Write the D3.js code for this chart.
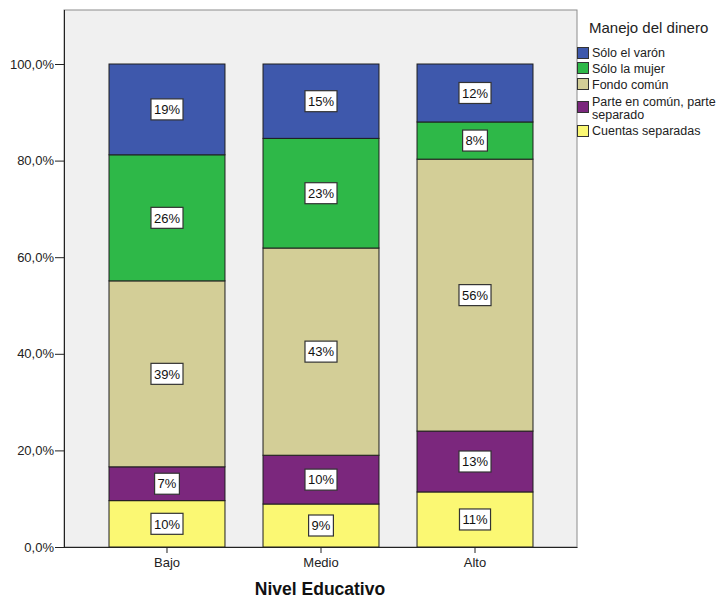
<!DOCTYPE html>
<html>
<head>
<meta charset="utf-8">
<script src="https://cdn.jsdelivr.net/npm/d3@7/dist/d3.min.js"></script>
<style>
  body { margin: 0; background: #fff; }
  svg { font-family: "Liberation Sans", Arial, sans-serif; }
</style>
</head>
<body>
<svg id="chart" width="722" height="600"></svg>
<script>
'use strict';

// Categories and series (percent of each education level)
var niveles = ['Bajo', 'Medio', 'Alto'];
var series = ['Cuentas separadas', 'Parte en común, parte separado', 'Fondo común', 'Sólo la mujer', 'Sólo el varón'];
var cuentasSeparadas = [9.6, 8.9, 11.4];
var parteComun = [7.0, 10.1, 12.6];
var fondoComun = [38.5, 42.9, 56.3];
var soloMujer = [26.1, 22.7, 7.7];
var soloVaron = [18.8, 15.4, 12.0];
var yTicks = [0, 20, 40, 60, 80, 100];

// legend order (top to bottom)
var legendItems = [
  { name: 'Sólo el varón', lines: ['Sólo el varón'] },
  { name: 'Sólo la mujer', lines: ['Sólo la mujer'] },
  { name: 'Fondo común', lines: ['Fondo común'] },
  { name: 'Parte en común, parte separado', lines: ['Parte en común, parte', 'separado'] },
  { name: 'Cuentas separadas', lines: ['Cuentas separadas'] }
];

var colors = d3.scaleOrdinal()
  .domain(series)
  .range(['#fbf873', '#7b277d', '#d3ce97', '#2eb848', '#3e58ac']);

// build table rows for the stack
var values = [cuentasSeparadas, parteComun, fondoComun, soloMujer, soloVaron];
var table = niveles.map(function(n, i) {
  var row = { nivel: n };
  series.forEach(function(s, j) { row[s] = values[j][i]; });
  return row;
});
var stacked = d3.stack().keys(series)(table);

var svg = d3.select('#chart');
var plot = { left: 64, top: 10, right: 577, bottom: 547 };

var y = d3.scaleLinear().domain([0, 100]).range([plot.bottom, 64]);
var x = d3.scaleBand().domain(niveles)
  .range([plot.left, plot.right])
  .paddingInner(0.247)
  .paddingOuter(0.289);

// plot background
svg.append('rect')
  .attr('x', plot.left).attr('y', plot.top)
  .attr('width', plot.right - plot.left).attr('height', plot.bottom - plot.top)
  .attr('fill', '#f0f0f0')
  .attr('stroke', '#8c8c8c').attr('stroke-width', 1);

// bars
var layers = svg.append('g').selectAll('g')
  .data(stacked)
  .enter().append('g')
  .attr('fill', function(d) { return colors(d.key); });

layers.selectAll('rect')
  .data(function(d) { return d; })
  .enter().append('rect')
  .attr('x', function(d) { return x(d.data.nivel) + 0.5; })
  .attr('y', function(d) { return y(d[1]); })
  .attr('width', x.bandwidth())
  .attr('height', function(d) { return y(d[0]) - y(d[1]); })
  .attr('stroke', '#1e1e1e')
  .attr('stroke-width', 1);

// value labels
stacked.forEach(function(layer) {
  layer.forEach(function(d) {
    var cx = x(d.data.nivel) + x.bandwidth() / 2 + 0.5;
    var cy = (y(d[0]) + y(d[1])) / 2;
    var txt = Math.round(d[1] - d[0]) + '%';
    var g = svg.append('g').attr('transform', 'translate(' + cx + ',' + cy + ')');
    var t = g.append('text')
      .attr('text-anchor', 'middle')
      .attr('dy', '0.36em')
      .attr('font-size', 13)
      .attr('fill', '#111')
      .text(txt);
    var w = t.node().getComputedTextLength() + 6;
    g.insert('rect', 'text')
      .attr('x', -w / 2).attr('y', -10.5)
      .attr('width', w).attr('height', 21)
      .attr('fill', '#fff')
      .attr('stroke', '#333').attr('stroke-width', 1.2);
  });
});

// y axis
var yAxis = svg.append('g')
  .attr('transform', 'translate(' + plot.left + ',0)')
  .call(d3.axisLeft(y).tickValues(yTicks).tickSize(9).tickPadding(1)
    .tickFormat(function(d) { return d3.format('.1f')(d).replace('.', ',') + '%'; }));
yAxis.select('.domain').attr('stroke', '#222').attr('d', 'M0.5,' + plot.top + 'V' + plot.bottom);
yAxis.selectAll('.tick line').attr('stroke', '#222');
yAxis.selectAll('text').attr('font-size', 13).attr('fill', '#222').attr('font-family', null);

// x axis
var xAxis = svg.append('g')
  .attr('transform', 'translate(0.5,' + plot.bottom + ')')
  .call(d3.axisBottom(x).tickSize(6).tickPadding(5));
xAxis.select('.domain').attr('stroke', '#222').attr('d', 'M' + (plot.left - 0.5) + ',0.5H' + plot.right);
xAxis.selectAll('.tick line').attr('stroke', '#222');
xAxis.selectAll('text').attr('font-size', 13).attr('fill', '#222').attr('font-family', null);

// x axis title
svg.append('text')
  .attr('x', 320).attr('y', 595)
  .attr('text-anchor', 'middle')
  .attr('font-size', 17.5).attr('font-weight', 'bold')
  .attr('fill', '#111')
  .text('Nivel Educativo');

// legend
var legend = svg.append('g');
legend.append('text')
  .attr('x', 589).attr('y', 33)
  .attr('font-size', 15).attr('fill', '#222')
  .text('Manejo del dinero');

var swatchTops = [47, 62, 78, 101, 125];
var baselines = [57, 73, 88.5, 106, 135];
legendItems.forEach(function(item, i) {
  legend.append('rect')
    .attr('x', 577.5).attr('y', swatchTops[i] + 0.5)
    .attr('width', 11).attr('height', 11)
    .attr('fill', colors(item.name))
    .attr('stroke', '#333').attr('stroke-width', 1);
  var t = legend.append('text')
    .attr('x', 592).attr('y', baselines[i])
    .attr('font-size', 12.5).attr('fill', '#222');
  t.selectAll('tspan')
    .data(item.lines)
    .enter().append('tspan')
    .attr('x', 592)
    .attr('dy', function(d, j) { return j === 0 ? 0 : 12.5; })
    .text(function(d) { return d; });
});
</script>
</body>
</html>
